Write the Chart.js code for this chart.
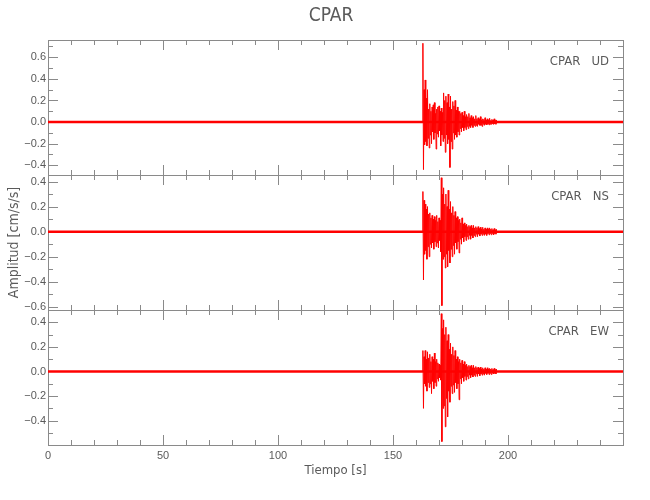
<!DOCTYPE html>
<html>
<head>
<meta charset="utf-8">
<script src="https://cdn.jsdelivr.net/npm/chart.js@4.4.1/dist/chart.umd.min.js"></script>
<style>
  body { margin: 0; background: #fff; }
</style>
</head>
<body>
<canvas id="myChart" width="650" height="500"></canvas>
<script>
// station / components
const station = 'CPAR';
const components = ['UD', 'NS', 'EW'];
const panelIds = ['yUD', 'yNS', 'yEW'];

// axis ranges
const timeMin = 0, timeMax = 250;
const lastTimeLabel = 200;
const panelMin = [-0.49, -0.625, -0.598];
const panelMax = [0.76, 0.452, 0.5];

// quiet background trace (noise level around zero)
const quietTimes = [0, 250];
const quietLevel = [0, 0];

// burst samples, start time and sample step in seconds
const burstStart = 162.75;
const burstStep = 0.25;

// peak values per half cycle
const udValues = [0.0,
  0.73, -0.44, 0.30, -0.21, 0.39, -0.18, 0.22, -0.22, 0.30, -0.15, 0.12, -0.24, 0.17, -0.12, 0.10, -0.20,
  0.14, -0.09, 0.16, -0.16, 0.18, -0.10, 0.08, -0.25, 0.12, -0.11, 0.14, -0.14, 0.15, -0.08, 0.10, -0.22,
  0.13, -0.12, 0.09, -0.18, 0.27, -0.15, 0.20, -0.28, 0.24, -0.12, 0.18, -0.20, 0.26, -0.16, 0.14, -0.42,
  0.24, -0.18, 0.12, -0.25, 0.19, -0.10, 0.15, -0.16, 0.20, -0.12, 0.11, -0.14, 0.14, -0.09, 0.10, -0.12,
  0.10, -0.06, 0.08, -0.09, 0.09, -0.05, 0.06, -0.08, 0.10, -0.05, 0.05, -0.07, 0.07, -0.04, 0.05, -0.06,
  0.08, -0.04, 0.04, -0.05, 0.06, -0.03, 0.04, -0.05, 0.05, -0.03, 0.03, -0.04, 0.06, -0.03, 0.03, -0.04,
  0.04, -0.02, 0.03, -0.03, 0.05, -0.03, 0.02, -0.04, 0.03, -0.02, 0.025, -0.03, 0.04, -0.02, 0.02, -0.025,
  0.03, -0.02, 0.02, -0.025, 0.035, -0.02, 0.015, -0.02, 0.025, -0.015, 0.02, -0.02, 0.03, -0.015, 0.015, -0.02,
  0.02];
const nsValues = [0.0,
  0.32, -0.385, 0.25, -0.18, 0.22, -0.15, 0.18, -0.22, 0.20, -0.12, 0.14, -0.20, 0.15, -0.10, 0.11, -0.13,
  0.13, -0.09, 0.10, -0.14, 0.12, -0.08, 0.09, -0.12, 0.13, -0.09, 0.08, -0.13, 0.11, -0.07, 0.09, -0.16,
  0.43, -0.59, 0.30, -0.22, 0.35, -0.20, 0.22, -0.29, 0.30, -0.18, 0.20, -0.28, 0.33, -0.15, 0.18, -0.25,
  0.24, -0.14, 0.15, -0.20, 0.20, -0.11, 0.13, -0.18, 0.16, -0.09, 0.11, -0.14, 0.12, -0.08, 0.09, -0.17,
  0.10, -0.06, 0.07, -0.10, 0.11, -0.05, 0.06, -0.08, 0.07, -0.04, 0.05, -0.07, 0.06, -0.04, 0.04, -0.06,
  0.05, -0.03, 0.04, -0.06, 0.05, -0.03, 0.03, -0.05, 0.05, -0.03, 0.03, -0.04, 0.04, -0.02, 0.03, -0.04,
  0.04, -0.02, 0.025, -0.035, 0.035, -0.02, 0.02, -0.03, 0.035, -0.02, 0.02, -0.03, 0.03, -0.02, 0.02, -0.03,
  0.03, -0.015, 0.02, -0.025, 0.03, -0.015, 0.02, -0.025, 0.025, -0.015, 0.015, -0.025, 0.025, -0.015, 0.015, -0.02,
  0.02];
const ewValues = [0.0,
  0.17, -0.30, 0.12, -0.10, 0.17, -0.12, 0.10, -0.16, 0.16, -0.09, 0.11, -0.13, 0.14, -0.10, 0.08, -0.18,
  0.12, -0.08, 0.10, -0.14, 0.15, -0.09, 0.08, -0.12, 0.10, -0.06, 0.07, -0.08, 0.06, -0.05, 0.05, -0.07,
  0.47, -0.57, 0.35, -0.30, 0.42, -0.28, 0.30, -0.45, 0.36, -0.22, 0.25, -0.37, 0.30, -0.16, 0.18, -0.25,
  0.23, -0.12, 0.14, -0.18, 0.20, -0.11, 0.13, -0.17, 0.17, -0.09, 0.10, -0.14, 0.12, -0.10, 0.08, -0.23,
  0.10, -0.06, 0.07, -0.10, 0.09, -0.05, 0.06, -0.08, 0.08, -0.04, 0.05, -0.07, 0.06, -0.04, 0.04, -0.06,
  0.05, -0.03, 0.04, -0.05, 0.05, -0.03, 0.03, -0.045, 0.05, -0.03, 0.03, -0.04, 0.04, -0.02, 0.03, -0.04,
  0.035, -0.02, 0.025, -0.035, 0.035, -0.02, 0.02, -0.03, 0.03, -0.02, 0.02, -0.03, 0.03, -0.015, 0.02, -0.025,
  0.03, -0.015, 0.02, -0.025, 0.025, -0.015, 0.02, -0.025, 0.025, -0.015, 0.015, -0.02, 0.025, -0.015, 0.015, -0.02,
  0.02];
const burstValues = [udValues, nsValues, ewValues];

const traceColor = '#ff0000';
const axisColor = '#8a8a8a';
const textColor = '#5a5a5a';
const tickFont = { family: "'Liberation Sans', Arial, sans-serif", size: 11 };
const narrow = "'Liberation Sans Narrow', 'DejaVu Sans Condensed', sans-serif";

//turn value arrays into {x,y} points
function toPoints(values) {
  return values.map((v, i) => ({ x: burstStart + i * burstStep, y: v }));
}

let datasets = [];
panelIds.forEach((id, i) => {
  datasets.push({
    data: quietTimes.map((t, k) => ({ x: t, y: quietLevel[k] })),
    yAxisID: id,
    borderColor: traceColor,
    borderWidth: 2.5,
    pointRadius: 0
  });
  datasets.push({
    data: toPoints(burstValues[i]),
    yAxisID: id,
    borderColor: traceColor,
    borderWidth: 1,
    pointRadius: 0
  });
});

// labels every 0.2 with a long minus
function yLabel(value) {
  let tenth = Math.round(value * 10);
  if (tenth % 2 !== 0) return '';
  if (tenth === 0) return '0.0';
  return (tenth / 10).toFixed(1).replace('-', '\u2212');
}

function keepTenths(scale) {
  scale.ticks = scale.ticks.filter(t => Math.abs(t.value * 10 - Math.round(t.value * 10)) < 1e-6);
}

function panelScale(i) {
  return {
    type: 'linear',
    position: 'left',
    stack: 'panels',
    stackWeight: 1,
    weight: 3 - i,
    min: panelMin[i],
    max: panelMax[i],
    grid: { display: false, drawTicks: false },
    border: { display: false },
    ticks: { stepSize: 0.1, includeBounds: false, autoSkip: false, padding: 2, color: textColor, font: tickFont, callback: yLabel },
    afterBuildTicks: keepTenths,
    afterFit: s => { s.width = 48; }
  };
}

// frames, inward ticks and texts
const framePlugin = {
  id: 'frames',
  beforeDatasetsDraw(chart) {
    const ctx = chart.ctx;
    const area = chart.chartArea;
    const xs = chart.scales.x;
    ctx.save();
    ctx.strokeStyle = axisColor;
    ctx.lineWidth = 1;
    panelIds.forEach(id => {
      const ys = chart.scales[id];
      const top = Math.round(ys.top), bottom = Math.round(ys.bottom);
      ctx.strokeRect(area.left + 0.5, top + 0.5, area.right - area.left, bottom - top);
      ctx.beginPath();
      xs.ticks.forEach(t => {
        const px = Math.round(xs.getPixelForValue(t.value)) + 0.5;
        const len = Math.round(t.value) % 50 === 0 ? 10 : 5;
        ctx.moveTo(px, bottom);
        ctx.lineTo(px, bottom - len);
        ctx.moveTo(px, top);
        ctx.lineTo(px, top + len);
      });
      ys.ticks.forEach(t => {
        const py = Math.round(ys.getPixelForValue(t.value)) + 0.5;
        const len = Math.round(t.value * 10) % 2 === 0 ? 10 : 5;
        ctx.moveTo(area.left, py);
        ctx.lineTo(area.left + len, py);
        ctx.moveTo(area.right, py);
        ctx.lineTo(area.right - len, py);
      });
      ctx.stroke();
    });
    ctx.restore();
  },
  afterDraw(chart) {
    const ctx = chart.ctx;
    const area = chart.chartArea;
    ctx.save();
    ctx.fillStyle = textColor;
    ctx.textBaseline = 'middle';

    ctx.textAlign = 'center';
    ctx.font = '19px ' + narrow;
    ctx.fillText(station, 331, 16);

    ctx.font = '13px ' + narrow;
    ctx.fillText('Tiempo [s]', (area.left + area.right) / 2, 471);

    ctx.textAlign = 'right';
    panelIds.forEach((id, i) => {
      ctx.fillText(station + '   ' + components[i], area.right - 14, chart.scales[id].top + 22);
    });

    ctx.save();
    ctx.translate(14, (area.top + area.bottom) / 2);
    ctx.rotate(-Math.PI / 2);
    ctx.textAlign = 'center';
    ctx.font = '14px ' + narrow;
    ctx.fillText('Amplitud [cm/s/s]', 0, 0);
    ctx.restore();

    ctx.restore();
  }
};

// labels every 50 s, the right edge is left unlabelled
function timeLabel(v) {
  let r = Math.round(v);
  return (r % 50 === 0 && r <= lastTimeLabel) ? String(r) : '';
}

let scales = {
  x: {
    type: 'linear',
    min: timeMin,
    max: timeMax,
    grid: { display: false, drawTicks: false },
    border: { display: false },
    ticks: {
      stepSize: 10,
      autoSkip: false,
      maxRotation: 0,
      padding: 4,
      color: textColor,
      font: tickFont,
      callback: timeLabel
    },
    afterFit: s => { s.height = 55; }
  }
};
panelIds.forEach((id, i) => { scales[id] = panelScale(i); });

let ctx = document.getElementById('myChart').getContext('2d');
let myChart = new Chart(ctx, {
  type: 'line',
  data: { datasets: datasets },
  options: {
    responsive: false,
    animation: false,
    layout: { padding: { top: 40, right: 27, bottom: 0, left: 0 } },
    elements: { line: { tension: 0 } },
    plugins: {
      legend: { display: false },
      tooltip: { enabled: false }
    },
    scales: scales
  },
  plugins: [framePlugin]
});
</script>
</body>
</html>
